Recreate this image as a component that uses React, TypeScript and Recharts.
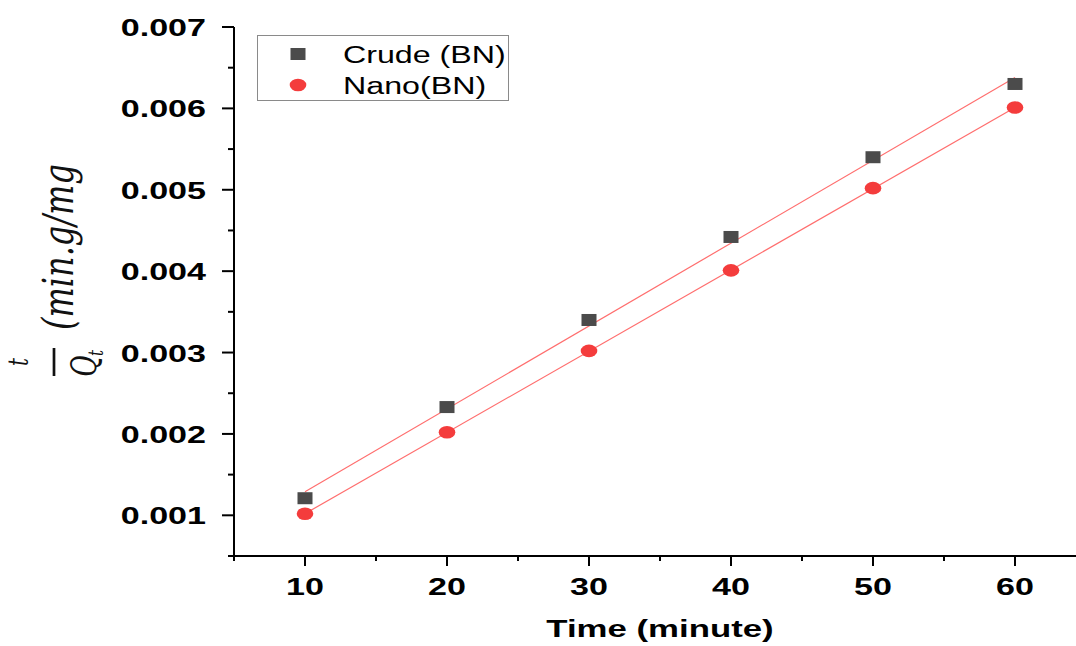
import React from 'react'
import {
  ComposedChart,
  Scatter,
  Line,
  XAxis,
  YAxis,
  Legend
} from 'recharts'

const times = [10, 20, 30, 40, 50, 60]
const crudeValues = [0.00121, 0.00233, 0.0034, 0.00442, 0.0054, 0.0063]
const nanoValues = [0.00102, 0.00202, 0.00302, 0.00401, 0.00502, 0.00601]

// end points of the linear fits
const fitTimes = [10, 60]
const crudeFit = [0.00129, 0.00638]
const nanoFit = [0.00102, 0.00601]

const xTicks = [5, 10, 15, 20, 25, 30, 35, 40, 45, 50, 55, 60]
const yTicks = [
  0.0005, 0.001, 0.0015, 0.002, 0.0025, 0.003, 0.0035, 0.004, 0.0045,
  0.005, 0.0055, 0.006, 0.0065, 0.007
]

const crudeData = times.map((x, i) => ({ x, y: crudeValues[i] }))
const nanoData = times.map((x, i) => ({ x, y: nanoValues[i] }))
const crudeFitData = fitTimes.map((x, i) => ({ x, y: crudeFit[i] }))
const nanoFitData = fitTimes.map((x, i) => ({ x, y: nanoFit[i] }))

const SANS = '"Liberation Sans", Arial, sans-serif'
const SERIF = '"DejaVu Serif", serif'
const STRETCH = 1.42
const SQUARE = '#4b4b4b'
const RED = '#f43c3c'
const FIT = '#ff6e6e'

const XTick = (props: any) => {
  const { x, y, payload } = props
  const major = payload.value % 10 === 0
  return (
    <g>
      <line x1={x} y1={y} x2={x} y2={y + (major ? 10 : 5)} stroke="#000" strokeWidth={2} />
      {major && (
        <text
          transform={`translate(${x},${y + 39}) scale(${STRETCH},1)`}
          textAnchor="middle"
          fontFamily={SANS}
          fontWeight="bold"
          fontSize={24}
          fill="#000"
        >
          {payload.value}
        </text>
      )}
    </g>
  )
}

const YTick = (props: any) => {
  const { x, y, payload } = props
  const major = Math.round(payload.value * 10000) % 10 === 0
  return (
    <g>
      <line x1={x} y1={y} x2={x - (major ? 12 : 6)} y2={y} stroke="#000" strokeWidth={2} />
      {major && (
        <text
          transform={`translate(206,${y + 9}) scale(${STRETCH},1)`}
          textAnchor="end"
          fontFamily={SANS}
          fontWeight="bold"
          fontSize={24}
          fill="#000"
        >
          {payload.value.toFixed(3)}
        </text>
      )}
    </g>
  )
}

const squareShape = (props: any) => (
  <rect x={props.cx - 7.5} y={props.cy - 6} width={15} height={12} fill={SQUARE} />
)

const circleShape = (props: any) => (
  <ellipse cx={props.cx} cy={props.cy} rx={8.3} ry={6.3} fill={RED} />
)

const YLabel = () => (
  <g transform="translate(54,362) rotate(-90) scale(1,1.35)" fill="#111" fontFamily={SERIF} fontStyle="italic">
    <text x={0} y={-19} textAnchor="middle" fontSize={20}>t</text>
    <line x1={-14} y1={0} x2={14} y2={0} stroke="#111" strokeWidth={2} />
    <text x={-4} y={31} textAnchor="middle" fontSize={26}>Q</text>
    <text x={6} y={36} fontSize={15}>t</text>
    <text x={32} y={14} fontSize={32}>(min.g/mg</text>
  </g>
)

const XLabel = (props: any) => {
  const { viewBox } = props
  return (
    <text
      transform={`translate(${viewBox.x + 426},${viewBox.y + 81}) scale(1.45,1)`}
      textAnchor="middle"
      fontFamily={SANS}
      fontWeight="bold"
      fontSize={24}
      fill="#000"
    >
      Time (minute)
    </text>
  )
}

const LegendBox = () => (
  <svg width={252} height={66} style={{ display: 'block' }}>
    <rect x={0.5} y={0.5} width={251} height={65} fill="#fff" stroke="#8a8a8a" strokeWidth={1} />
    <rect x={41 - 7.5} y={19 - 6} width={15} height={12} fill={SQUARE} />
    <ellipse cx={41} cy={50} rx={8.3} ry={6.3} fill={RED} />
    <text transform={`translate(86,28) scale(1.4,1)`} fontFamily={SANS} fontSize={23} fill="#000">
      Crude (BN)
    </text>
    <text transform={`translate(86,59) scale(1.4,1)`} fontFamily={SANS} fontSize={23} fill="#000">
      Nano(BN)
    </text>
  </svg>
)

export default function App() {
  return (
    <div
      style={{
        position: 'absolute',
        left: 0,
        top: 0,
        width: 1076,
        height: 646,
        overflow: 'hidden',
        background: '#fff'
      }}
    >
      <ComposedChart width={1086} height={646} margin={{ top: 27, right: 0, left: 0, bottom: 0 }}>
        <XAxis
          type="number"
          dataKey="x"
          domain={[5, 65]}
          ticks={xTicks}
          interval={0}
          height={90}
          tickSize={0}
          tickMargin={0}
          tickLine={false}
          tick={<XTick />}
          axisLine={{ stroke: '#000', strokeWidth: 2 }}
          allowDataOverflow
          label={<XLabel />}
        />
        <YAxis
          type="number"
          dataKey="y"
          domain={[0.0005, 0.007]}
          ticks={yTicks}
          interval={0}
          width={234}
          tickSize={0}
          tickMargin={0}
          tickLine={false}
          tick={<YTick />}
          axisLine={{ stroke: '#000', strokeWidth: 2 }}
          allowDataOverflow
          label={<YLabel />}
        />
        <Legend
          layout="horizontal"
          verticalAlign="middle"
          align="center"
          wrapperStyle={{ position: 'absolute', left: 257, top: 35, width: 252, height: 66 }}
          content={() => <LegendBox />}
        />
        <Scatter name="Crude (BN)" data={crudeData} shape={squareShape} isAnimationActive={false} />
        <Scatter name="Nano(BN)" data={nanoData} shape={circleShape} isAnimationActive={false} />
        <Line
          data={crudeFitData}
          dataKey="y"
          stroke={FIT}
          strokeWidth={1.2}
          dot={false}
          activeDot={false}
          legendType="none"
          isAnimationActive={false}
        />
        <Line
          data={nanoFitData}
          dataKey="y"
          stroke={FIT}
          strokeWidth={1.2}
          dot={false}
          activeDot={false}
          legendType="none"
          isAnimationActive={false}
        />
      </ComposedChart>
    </div>
  )
}
